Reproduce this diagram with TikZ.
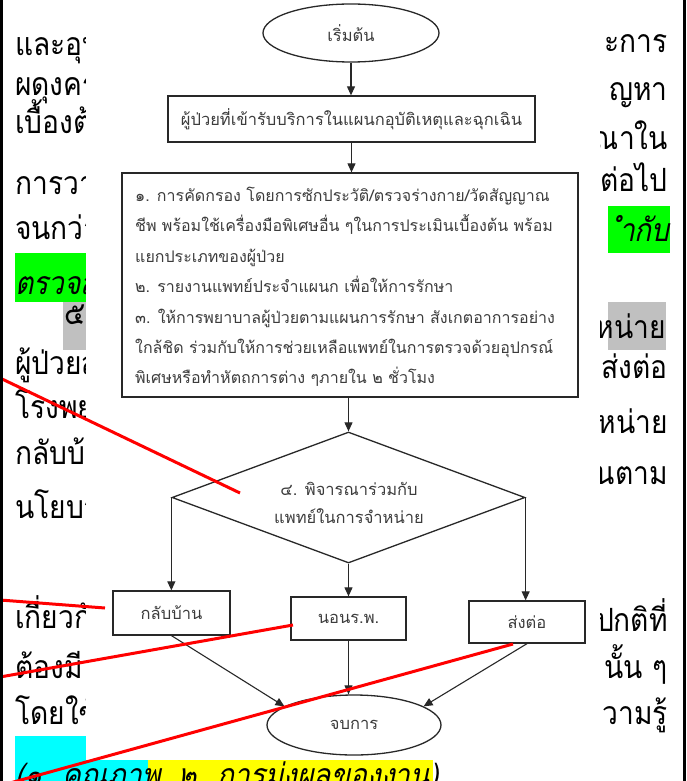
\documentclass[tikz,border=0pt]{standalone}
\usepackage{fontspec}
\newfontfamily\thai[Script=Thai]{Loma}
\newfontfamily\thaibg[Script=Thai,FakeStretch=0.88]{Loma}
\newfontfamily\thaiit[Script=Thai,FakeStretch=0.88,FakeSlant=0.2]{Loma}
\usetikzlibrary{shapes.geometric,arrows.meta}
\definecolor{hlgreen}{RGB}{0,255,0}
\definecolor{hlgray}{RGB}{192,192,192}
\definecolor{hlcyan}{RGB}{0,255,255}
\definecolor{hlyellow}{RGB}{255,255,0}
\definecolor{flowtext}{RGB}{60,60,60}
\definecolor{flowline}{RGB}{40,40,40}
\begin{document}
\begin{tikzpicture}[x=1pt,y=-1pt,
  bgl/.style={font=\thaibg\fontsize{32}{32}\selectfont, anchor=base west, inner sep=0},
  bgr/.style={font=\thaibg\fontsize{32}{32}\selectfont, anchor=base east, inner sep=0},
  bgit/.style={font=\thaiit\fontsize{32}{32}\selectfont, anchor=base west, inner sep=0},
  fbox/.style={draw=flowline, line width=1.3pt, rectangle, inner sep=0,
     font=\thai\fontsize{16.5}{20}\selectfont, text=flowtext},
  fell/.style={draw=flowline, line width=1.3pt, ellipse, inner sep=0,
     font=\thai\fontsize{16.5}{20}\selectfont, text=flowtext},
  ftxt/.style={font=\thai\fontsize{16}{20}\selectfont, text=flowtext, anchor=base west, inner sep=0},
  arr/.style={draw=flowline, line width=1.1pt, -{Triangle[length=9pt,width=8pt]}},
  redln/.style={draw=red, line width=3pt},
]
\useasboundingbox (0,0) rectangle (686,781);
\fill[white] (0,0) rectangle (686,781);
% ---------- background document text ----------
\fill[hlgreen] (15,253) rectangle (86,302);
\fill[hlgray] (63,302) rectangle (86,350);
\fill[hlgreen] (608,206) rectangle (670,253);
\fill[hlgray] (608,302) rectangle (666,350);
\fill[hlcyan] (15,736) rectangle (86,781);
\fill[hlcyan] (86,760) rectangle (148,781);
\fill[hlyellow] (148,760) rectangle (433,781);

\node[bgl] (l1) at (15,56) {และอุบัติ};
\node[bgl] (l2) at (15,96) {ผดุงครรภ์};
\node[bgl] (l3) at (15,134) {เบื้องต้น};
\node[bgl] (l4) at (15,194) {การวาง};
\node[bgl] (l5) at (15,239) {จนกว่า};
\node[bgit] (l6) at (15,294) {ตรวจสอบ};
\node[bgl] (l7) at (64,324) {๕.};
\node[bgl] (l8) at (15,374) {ผู้ป่วยส่ง};
\node[bgl] (l9) at (15,418) {โรงพยาบาล};
\node[bgl] (l10) at (15,464) {กลับบ้าน};
\node[bgl] (l11) at (15,518) {นโยบาย};
\node[bgl] (l12) at (15,628) {เกี่ยวกับ};
\node[bgl] (l13) at (15,678) {ต้องมี};
\node[bgl] (l14) at (15,724) {โดยใช้};
\node[bgit] (l15) at (15,786) {(๑. คุณภาพ, ๒. การมุ่งผลของงาน)};

\node[bgr] (r1) at (668,53) {ะการ};
\node[bgr] (r2) at (668,101) {ญหา};
\node[bgr] (r3) at (668,149) {รณาใน};
\node[bgr] (r4) at (668,191) {ต่อไป};
\node[font=\thaiit\fontsize{32}{32}\selectfont, anchor=base east, inner sep=0] (r5) at (670,241) {ำกับ};
\node[bgr] (r6) at (666,338) {หน่าย};
\node[bgr] (r7) at (668,378) {ส่งต่อ};
\node[bgr] (r8) at (668,433) {หน่าย};
\node[bgr] (r9) at (668,484) {นตาม};
\node[bgr] (r10) at (668,631) {ปกติที่};
\node[bgr] (r11) at (668,678) {นั้น ๆ};
\node[bgr] (r12) at (668,724) {วามรู้};

% ---------- pasted flowchart picture ----------
\fill[white] (86,0) rectangle (600,760);

\node[fell, minimum width=176pt, minimum height=58pt] (start) at (351,33) {เริ่มต้น};
\node[fbox, minimum width=367pt, minimum height=46pt] (adm) at (351.5,119) {ผู้ป่วยที่เข้ารับบริการในแผนกอุบัติเหตุและฉุกเฉิน};
\node[fbox, minimum width=456pt, minimum height=224pt] (care) at (350,285) {};
\node[ftxt] (care1) at (135,201) {๑. การคัดกรอง โดยการซักประวัติ/ตรวจร่างกาย/วัดสัญญาณ};
\node[ftxt] (care2) at (135,231.5) {ชีพ พร้อมใช้เครื่องมือพิเศษอื่น ๆในการประเมินเบื้องต้น พร้อม};
\node[ftxt] (care3) at (135,262) {แยกประเภทของผู้ป่วย};
\node[ftxt] (care4) at (135,292.5) {๒. รายงานแพทย์ประจำแผนก เพื่อให้การรักษา};
\node[ftxt] (care5) at (135,323) {๓. ให้การพยาบาลผู้ป่วยตามแผนการรักษา สังเกตอาการอย่าง};
\node[ftxt] (care6) at (135,353.5) {ใกล้ชิด ร่วมกับให้การช่วยเหลือแพทย์ในการตรวจด้วยอุปกรณ์};
\node[ftxt] (care7) at (135,383) {พิเศษหรือทำหัตถการต่าง ๆภายใน ๒ ชั่วโมง};
\node[draw=flowline, line width=1.3pt, diamond, inner sep=0, minimum width=353pt, minimum height=131pt] (dec) at (348.5,497.5) {};
\node[font=\thai\fontsize{16.5}{28}\selectfont, text=flowtext, align=center, inner sep=0] (dectxt) at (349,503)
  {๔. พิจารณาร่วมกับ\\แพทย์ในการจำหน่าย};
\node[fbox, minimum width=117pt, minimum height=44pt] (home) at (171.5,613) {กลับบ้าน};
\node[fbox, minimum width=115pt, minimum height=43pt] (stay) at (348.5,618.5) {นอนร.พ.};
\node[fbox, minimum width=116pt, minimum height=42pt] (refer) at (527,622) {ส่งต่อ};
\node[fell, minimum width=174pt, minimum height=60pt] (finish) at (354,725) {จบการ};

\draw[arr] (start.south) -- (start.south |- adm.north);
\draw[arr] (adm.south) -- (adm.south |- care.north);
\draw[arr] (dec.north |- care.south) -- (dec.north);
\draw[arr] (dec.west) -- (dec.west |- home.north);
\draw[arr] (dec.south) -- (dec.south |- stay.north);
\draw[arr] (dec.east) -- (dec.east |- refer.north);
\draw[arr] (home.south) -- (finish.165);
\draw[arr] (stay.south) -- (stay.south |- finish.north);
\draw[arr] (refer.south) -- (finish.15);

% ---------- comment connectors ----------
\coordinate (c1a) at (0,378);  \coordinate (c1b) at (240,493);
\coordinate (c2a) at (0,600);  \coordinate (c2b) at (105,608);
\coordinate (c3a) at (0,677);  \coordinate (c3b) at (293,625);
\coordinate (c4a) at (10,783); \coordinate (c4b) at (513,644);
\draw[redln] (c1a) -- (c1b);
\draw[redln] (c2a) -- (c2b);
\draw[redln] (c3a) -- (c3b);
\draw[redln] (c4a) -- (c4b);

% ---------- page edges ----------
\fill[black] (0,0) rectangle (3,781);
\fill[black] (683,0) rectangle (686,781);
\end{tikzpicture}
\end{document}
